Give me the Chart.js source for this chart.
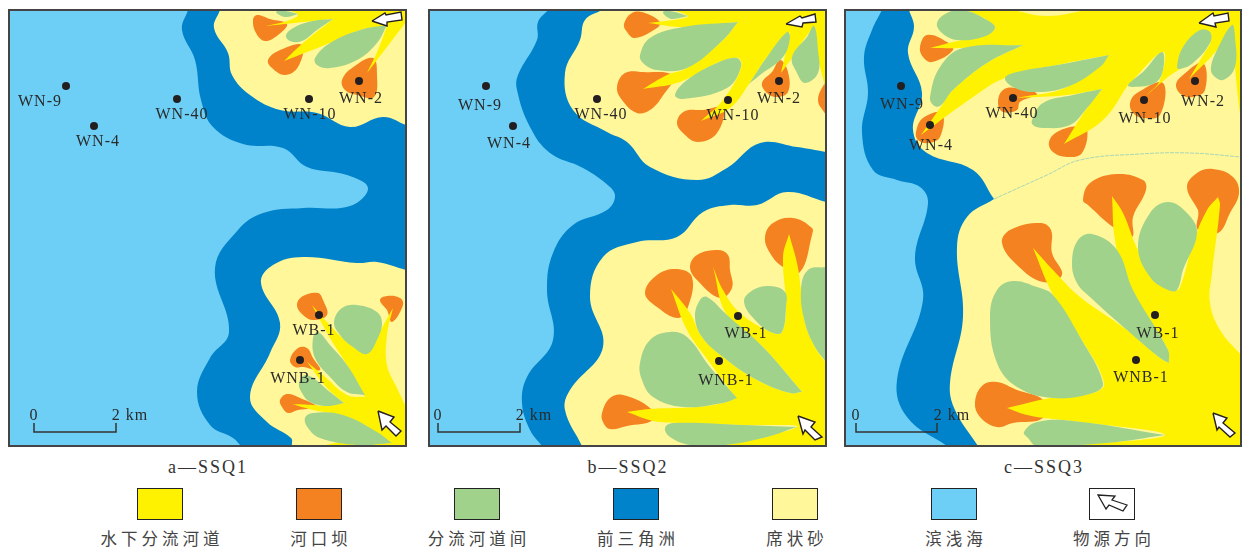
<!DOCTYPE html>
<html>
<head>
<meta charset="utf-8">
<style>
  html, body { margin: 0; background: #fff; width: 1244px; height: 550px; overflow: hidden; }
  canvas { position: absolute; outline: 2px solid #444; outline-offset: -1px; }
  .cap { position: absolute; transform: translate(-50%, -50%); white-space: nowrap; }
  .title { font: 18px "Liberation Serif", serif; letter-spacing: 2px; color: #333; }
  .name { font: 16.5px "Noto Sans CJK SC", sans-serif; letter-spacing: 4px; color: #444; }
  .swatch { position: absolute; top: 488px; width: 44px; height: 30px; border: 1.5px solid #222; }
  svg { position: absolute; left: 0; top: 0; }
</style>
</head>
<body>
<canvas id="ssq1" style="left:9px;top:10px" width="397" height="436"></canvas>
<canvas id="ssq2" style="left:429px;top:10px" width="397" height="436"></canvas>
<canvas id="ssq3" style="left:845px;top:10px" width="396" height="436"></canvas>

<script src="https://cdn.jsdelivr.net/npm/chart.js@4"></script>
<script>
// map units per panel, origin top left. third value 1 = sharp corner
const wellNames = ['WN-9', 'WN-4', 'WN-40', 'WN-10', 'WN-2', 'WB-1', 'WNB-1'];

const faciesNames = ['水下分流河道', '河口坝', '分流河道间', '前三角洲', '席状砂', '滨浅海', '物源方向'];
const faciesColors = ['#FFF200', '#F58220', '#A1D28C', '#0083CA', '#FFF799', '#6DCFF6', '#FFFFFF'];
const panelTitles = ['a—SSQ1', 'b—SSQ2', 'c—SSQ3'];

// SSQ1
const ssq1Wells = [[57,76],[85,116],[168,89],[300,89],[350,71],[310,305],[291,350]];
const ssq1WellText = [[31,90],[89,130],[173,103],[301,103],[352,87],[305,319],[289,367]];
const ssq1Delta = [[[179,0,1],[173,20],[186,50],[192,90],[204,117],[234,134],[274,138],[298,157],[338,165],[359,178],[341,196],[294,198],[254,203],[229,220],[206,258],[220,322],[201,348],[188,382],[201,415],[224,428],[232,436,1],[397,436,1],[397,0,1],[179,0,1]]];
const ssq1Sheet = [
  [[211,0,1],[205,18],[219,43],[223,65],[241,85],[271,100],[308,103],[341,117],[374,107],[397,115,1],[397,0,1],[211,0,1]],
  [[283,436,1],[282,428],[258,412],[241,387],[261,343],[271,313],[252,273],[264,255],[294,247],[348,253],[368,252],[397,260,1],[397,436,1],[283,436,1]]
];
const ssq1Bars = [
  [[244,10],[248,5],[261,9],[278,14],[269,25],[256,31],[247,23],[244,10]],
  [[259,50],[269,41],[293,35],[289,57],[276,65],[263,58],[259,50]],
  [[333,70],[343,58],[364,48],[368,65],[365,87],[348,85],[336,80],[333,70]],
  [[288,295],[294,286],[309,283],[314,290],[318,305],[304,310],[294,305],[288,295]],
  [[371,290],[378,286],[391,288],[394,295],[383,312],[378,300],[371,290]],
  [[281,350],[289,338],[298,338],[304,348],[311,360],[294,357],[286,357],[281,350]],
  [[271,390],[278,384],[291,388],[308,397],[289,400],[279,403],[273,397],[271,390]]
];
const ssq1Channels = [
  [[280,0,1],[397,0,1],[397,12,1],[381,33],[358,63,1],[369,40],[378,16,1],[351,20],[321,33],[275,51,1],[294,33],[324,9,1],[304,11],[257,16,1],[278,11],[289,5],[280,0,1]],
  [[283,394,1],[304,395],[318,396],[335,393,1],[318,378],[298,352,1],[314,365],[338,385],[356,387,1],[338,355],[321,328],[303,295,1],[318,312],[338,332],[358,344,1],[369,325],[384,298,1],[378,325],[378,355],[388,378],[397,397,1],[397,436,1],[314,436,1],[361,422],[334,406],[304,400],[283,394,1]]
];
const ssq1Inter = [
  [[267,2],[276,1],[289,4,1],[276,7],[267,2]],
  [[277,25],[286,17],[304,11],[324,9,1],[308,20],[293,31],[281,31],[277,25]],
  [[306,48],[321,33],[351,20],[378,15,1],[368,33],[348,50],[321,58],[308,55],[306,48]],
  [[325,312],[333,298],[348,295],[368,302],[373,313],[368,330],[358,344],[344,337],[331,325],[325,312]],
  [[304,328],[309,322],[321,335],[338,355],[356,385,1],[338,382],[321,367],[306,348],[304,328]],
  [[290,373],[298,365],[321,382],[335,393,1],[318,396],[301,392],[293,383],[290,373]],
  [[296,408],[304,403],[334,405],[368,422],[383,433,1],[348,435],[311,428],[299,418],[296,408]]
];
const ssq1Arrows = [
  [[363,11],[376,3],[377,5],[392,2],[393,10],[378,12],[378,16],[363,11]],
  [[369,401],[385,407],[381,412],[392,421],[387,426],[377,416],[373,420],[369,401]]
];
const ssq1ScaleBar = [[25,413],[25,422],[107,422],[107,413]];
const ssq1ScaleText = [['0',25,404],['2 km',121,404]];

// SSQ2
const ssq2Wells = [[57,76],[84,116],[168,89],[299,90],[350,71],[309,306],[290,351]];
const ssq2WellText = [[51,94],[80,132],[172,103],[304,104],[350,87],[317,322],[297,369]];
const ssq2Delta = [[[119,0,1],[109,12],[108,30],[89,65],[88,80],[101,117],[121,143],[154,158],[181,177],[186,187],[178,200],[144,215],[124,243],[118,280],[124,330],[98,367],[93,393],[101,420],[113,436,1],[397,436,1],[397,0,1],[119,0,1]]];
const ssq2Sheet = [
  [[173,0,1],[156,10],[151,30],[136,63],[144,100],[178,122],[198,132],[221,157],[268,170],[298,158],[331,133],[368,137],[397,142,1],[397,0,1],[173,0,1]],
  [[153,436,1],[136,400],[141,380],[174,337],[161,287],[174,247],[208,232],[248,227],[274,202],[301,195],[328,195],[358,182],[397,192,1],[397,436,1],[153,436,1]]
];
const ssq2Bars = [
  [[195,14],[203,3],[216,3],[231,12],[228,18],[206,28],[198,22],[195,14]],
  [[188,77],[196,63],[214,62],[244,66],[233,87],[221,100],[208,103],[193,90],[188,77]],
  [[248,112],[256,101],[274,100],[294,98],[288,123],[269,132],[254,123],[248,112]],
  [[333,73],[343,62],[351,50],[359,62],[359,82],[348,87],[338,83],[333,73]],
  [[397,70,1],[389,90],[397,105,1],[397,70,1]],
  [[336,227],[344,213],[364,208],[383,218],[383,225],[371,262],[354,257],[341,243],[336,227]],
  [[261,257],[268,245],[289,240],[299,245],[301,260],[303,278],[291,288],[268,270],[261,257]],
  [[216,283],[228,265],[248,259],[263,267],[259,297],[249,308],[228,297],[216,283]],
  [[173,403],[181,388],[194,385],[221,398],[224,410],[198,416],[181,419],[174,412],[173,403]]
];
const ssq2Channels = [
  [[244,0,1],[397,0,1],[397,80,1],[389,47],[385,16,1],[371,35],[363,48],[352,63,1],[358,37],[361,22,1],[338,47],[320,74],[301,98],[272,111,1],[294,90],[312,58],[309,48],[288,53],[251,72],[214,79,1],[238,65],[258,58],[294,30],[309,12,1],[254,17],[219,13,1],[251,9],[259,6],[244,0,1]],
  [[198,402,1],[221,399],[268,397],[294,393],[307,388,1],[281,353],[258,320],[242,279,1],[261,303],[273,327],[294,347],[328,370],[361,383],[373,382,1],[334,337],[298,305],[284,257,1],[294,280],[311,303],[344,323],[353,322],[357,297],[354,247],[360,224,1],[368,253],[372,280],[376,313],[386,337],[397,353,1],[397,436,1],[288,436,1],[368,417],[314,415],[248,413],[224,411],[198,402,1]]
];
const ssq2Inter = [
  [[234,2],[241,1],[259,6,1],[244,9],[238,7],[234,2]],
  [[211,45],[221,28],[254,17],[309,12,1],[294,30],[258,58],[228,60],[214,53],[211,45]],
  [[246,85],[258,70],[288,53],[308,48],[312,57],[298,78],[254,89],[246,85]],
  [[320,74,1],[338,47],[358,22],[361,28],[354,47],[331,65],[320,74,1]],
  [[363,47],[378,27],[385,16],[389,40],[389,63],[376,73],[368,63],[363,47]],
  [[315,292],[324,280],[341,276],[356,282],[357,297],[353,322],[344,323],[328,312],[315,292]],
  [[266,307],[271,290],[278,287],[298,305],[334,337],[373,382,1],[361,383],[328,370],[294,347],[273,327],[266,307]],
  [[211,353],[221,330],[241,322],[258,327],[281,357],[308,388,1],[294,393],[254,397],[224,387],[213,370],[211,353]],
  [[372,280],[379,260],[397,257,1],[397,352,1],[386,337],[376,313],[372,280]],
  [[236,418],[244,413],[314,415],[368,417,1],[334,428],[288,436],[261,435],[241,427],[236,418]]
];
const ssq2Arrows = [
  [[357,14],[371,6],[373,8],[386,4],[387,12],[374,13],[373,17],[357,14]],
  [[369,406],[386,412],[382,417],[393,427],[386,430],[376,420],[374,424],[369,406]]
];
const ssq2ScaleBar = [[9,413],[9,422],[91,422],[91,413]];
const ssq2ScaleText = [['0',9,404],['2 km',105,404]];

// SSQ3
const ssq3Wells = [[56,76],[85,115],[168,88],[299,90],[350,71],[310,305],[291,350]];
const ssq3WellText = [[57,93],[86,134],[167,102],[300,107],[358,90],[313,322],[296,366]];
const ssq3Delta = [[[37,0,1],[27,20],[19,47],[23,83],[17,123],[28,160],[52,170],[75,177],[83,193],[70,247],[78,290],[52,370],[62,407],[102,436,1],[396,436,1],[396,0,1],[37,0,1]]];
const ssq3Sheet = [
  [[64,0,1],[69,17],[63,43],[77,83],[68,120],[82,143],[128,160],[149,189,1],[122,207],[112,237],[118,307],[105,373],[110,400],[133,436,1],[396,436,1],[396,0,1],[64,0,1]]
];
const ssq3Seam = [[149,189],[202,165],[235,150],[295,144],[345,143],[396,147]];
const ssq3Bars = [
  [[75,37],[82,25],[102,32],[108,40],[87,52],[78,47],[75,37]],
  [[71,122],[78,108],[97,103],[95,127],[83,133],[73,130],[71,122]],
  [[153,93],[158,80],[172,78],[192,84],[175,92],[172,100],[158,102],[153,93]],
  [[204,132],[212,122],[232,116],[242,118],[237,143],[222,147],[208,142],[204,132]],
  [[285,93],[292,83],[318,73],[315,105],[298,108],[288,103],[285,93]],
  [[331,75],[338,65],[358,53],[360,80],[348,87],[337,85],[331,75]],
  [[238,190],[245,173],[272,164],[298,170],[301,180],[288,207],[287,227],[268,217],[243,195],[238,190]],
  [[342,177],[352,163],[368,159],[388,167],[394,183],[385,203],[373,223],[353,220],[353,200],[342,177]],
  [[157,233],[165,220],[195,213],[206,220],[207,243],[217,265],[198,272],[172,255],[157,233]],
  [[130,392],[138,375],[152,372],[172,380],[198,390],[198,408],[168,413],[152,417],[135,407],[130,392]]
];
const ssq3Channels = [
  [[122,0,1],[168,0,1],[202,6],[242,0,1],[396,0,1],[396,113,1],[390,57],[388,15,1],[372,40],[344,69,1],[357,47],[365,33],[335,59,1],[323,67],[302,85,1],[315,70],[318,42],[283,75,1],[258,110],[219,134,1],[242,98],[257,79,1],[222,85],[172,88,1],[222,77],[264,45,1],[212,55],[160,68],[128,87],[76,125,1],[95,98],[108,80],[142,53],[178,35,1],[118,38],[85,38,1],[108,32],[138,25],[150,18],[142,10],[122,0,1]],
  [[162,398,1],[205,388],[248,383],[259,373],[235,327],[208,285],[188,238,1],[208,260],[235,287],[282,320],[315,348],[324,353,1],[323,340],[302,307],[282,277],[270,230],[267,186,1],[278,203],[293,240],[312,270],[328,281],[335,277],[348,233],[362,200],[373,187,1],[375,195],[367,263],[365,293],[375,320],[396,345,1],[396,436,1],[222,436,1],[320,425],[228,411],[208,409],[182,405],[162,398,1]]
];
const ssq3Inter = [
  [[92,13],[102,3],[118,0],[142,10],[150,18],[138,27],[112,30],[97,23],[92,13]],
  [[85,87],[95,57],[118,38],[178,35,1],[142,53],[108,80],[95,96],[88,95],[85,87]],
  [[160,68],[172,62],[212,55],[264,45,1],[255,57],[222,77],[188,82],[168,77],[160,68]],
  [[187,110],[198,93],[228,85],[257,79,1],[242,98],[225,115],[198,118],[188,115],[187,110]],
  [[283,75],[298,62],[317,42],[318,60],[310,73],[288,77],[283,75]],
  [[332,57],[338,37],[355,20],[365,22],[365,33],[348,53],[335,59],[332,57]],
  [[366,57],[372,40],[387,15],[390,27],[390,57],[378,70],[368,65],[366,57]],
  [[293,237],[305,203],[323,192],[342,203],[352,223],[338,260],[332,280],[323,280],[305,267],[293,237]],
  [[227,253],[233,230],[247,224],[272,240],[288,280],[323,340],[324,353,1],[315,348],[282,320],[245,287],[232,273],[227,253]],
  [[145,307],[152,280],[168,271],[192,277],[208,285],[235,327],[258,373],[248,383],[208,388],[172,377],[152,353],[145,307]],
  [[179,422],[192,412],[228,411],[320,425,1],[262,433],[192,436],[183,428],[179,422]]
];
const ssq3Arrows = [
  [[354,13],[368,3],[369,6],[383,3],[384,11],[370,13],[371,17],[354,13]],
  [[368,403],[382,408],[378,413],[390,423],[385,427],[374,417],[372,420],[368,403]]
];
const ssq3ScaleBar = [[11,413],[11,422],[92,422],[92,413]];
const ssq3ScaleText = [['0',11,404],['2 km',107,404]];

const YELLOW = faciesColors[0], ORANGE = faciesColors[1], GREEN = faciesColors[2];
const DELTA = faciesColors[3], SHEET = faciesColors[4], SEA = faciesColors[5];

function toPoints(list) {
  const out = [];
  list.forEach(p => {
    out.push({ x: p[0], y: p[1] });
    // repeating a point collapses the bezier handles, so the corner stays sharp
    if (p[2]) out.push({ x: p[0], y: p[1] });
  });
  return out;
}

// blobs start on a smooth point: overlap the ends so the seam has no kink
function toBlob(list) {
  if (list[0][2]) return toPoints(list);
  const n = list.length;
  return toPoints([list[n - 2]].concat(list, [list[1]]));
}

function areaSet(list, color) {
  return {
    data: toBlob(list),
    showLine: true,
    fill: 'shape',
    backgroundColor: color,
    borderColor: 'transparent',
    borderWidth: 0,
    pointRadius: 0,
    tension: 0.4
  };
}

function lineSet(list, color, width) {
  return {
    data: toPoints(list),
    showLine: true,
    fill: false,
    borderColor: color,
    borderWidth: width,
    pointRadius: 0,
    tension: 0
  };
}

const mapText = {
  id: 'mapText',
  afterDatasetsDraw(chart, args, opts) {
    const { ctx, scales } = chart;
    ctx.save();
    ctx.fillStyle = '#2a2a2a';
    ctx.font = '16px "Liberation Serif", serif';
    ctx.letterSpacing = '1px';
    ctx.textAlign = 'center';
    ctx.textBaseline = 'middle';
    opts.items.forEach(t => {
      ctx.fillText(t[0], scales.x.getPixelForValue(t[1]), scales.y.getPixelForValue(t[2]) + 1.5);
    });
    ctx.restore();
  }
};

function drawPanel(id, width, p) {
  const sets = [];
  sets.push(areaSet([[0,0,1],[width,0,1],[width,436,1],[0,436,1],[0,0,1]], SEA));
  p.delta.forEach(s => sets.push(areaSet(s, DELTA)));
  p.sheet.forEach(s => sets.push(areaSet(s, SHEET)));
  if (p.seam) {
    const seam = lineSet(p.seam, '#A9D6B8', 1);
    seam.tension = 0.4;
    seam.borderDash = [4, 1];
    sets.push(seam);
  }
  p.bars.forEach(s => sets.push(areaSet(s, ORANGE)));
  p.channels.forEach(s => sets.push(areaSet(s, YELLOW)));
  p.inter.forEach(s => sets.push(areaSet(s, GREEN)));
  p.arrows.forEach(s => {
    const a = lineSet(s, '#231F20', 1.4);
    a.fill = 'shape';
    a.backgroundColor = '#fff';
    sets.push(a);
  });
  sets.push(lineSet(p.scaleBar, '#333', 1.5));
  sets.push({
    data: toPoints(p.wells),
    showLine: false,
    pointRadius: 4,
    pointBackgroundColor: '#231F20',
    pointBorderWidth: 0
  });
  // first dataset is drawn on top, so give later ones the lower order
  sets.forEach((s, i) => { s.order = -i; });

  const labels = p.wellText.map((t, i) => [wellNames[i], t[0], t[1]]);
  return new Chart(document.getElementById(id), {
    type: 'scatter',
    data: { datasets: sets },
    options: {
      responsive: false,
      animation: false,
      events: [],
      layout: { padding: 0, autoPadding: false },
      scales: {
        x: { type: 'linear', min: 0, max: width, display: false },
        y: { type: 'linear', min: 0, max: 436, reverse: true, display: false }
      },
      plugins: {
        legend: { display: false },
        tooltip: { enabled: false },
        mapText: { items: labels.concat(p.scaleText) }
      }
    },
    plugins: [mapText]
  });
}

drawPanel('ssq1', 397, { delta: ssq1Delta, sheet: ssq1Sheet, bars: ssq1Bars, channels: ssq1Channels, inter: ssq1Inter, arrows: ssq1Arrows, scaleBar: ssq1ScaleBar, scaleText: ssq1ScaleText, wells: ssq1Wells, wellText: ssq1WellText });
drawPanel('ssq2', 397, { delta: ssq2Delta, sheet: ssq2Sheet, bars: ssq2Bars, channels: ssq2Channels, inter: ssq2Inter, arrows: ssq2Arrows, scaleBar: ssq2ScaleBar, scaleText: ssq2ScaleText, wells: ssq2Wells, wellText: ssq2WellText });
drawPanel('ssq3', 396, { delta: ssq3Delta, sheet: ssq3Sheet, seam: ssq3Seam, bars: ssq3Bars, channels: ssq3Channels, inter: ssq3Inter, arrows: ssq3Arrows, scaleBar: ssq3ScaleBar, scaleText: ssq3ScaleText, wells: ssq3Wells, wellText: ssq3WellText });

// captions and key under the maps
[208, 628, 1044].forEach((x, i) => {
  const d = document.createElement('div');
  d.className = 'cap title';
  d.style.left = x + 'px';
  d.style.top = '467px';
  d.textContent = panelTitles[i];
  document.body.appendChild(d);
});

faciesNames.forEach((name, i) => {
  const left = 137 + Math.round(i * 158.7);
  const box = document.createElement('div');
  box.className = 'swatch';
  box.style.left = left + 'px';
  box.style.background = faciesColors[i];
  if (i === 6) {
    box.innerHTML = '<svg width="44" height="30"><polygon points="8,6 25,7 22,11 37,16 33,22 19,16 16,20" fill="#fff" stroke="#222" stroke-width="1.3"/></svg>';
  }
  document.body.appendChild(box);
  const d = document.createElement('div');
  d.className = 'cap name';
  d.style.left = (left + 25) + 'px';
  d.style.top = '538px';
  d.textContent = name;
  document.body.appendChild(d);
});
</script>
</body>
</html>
